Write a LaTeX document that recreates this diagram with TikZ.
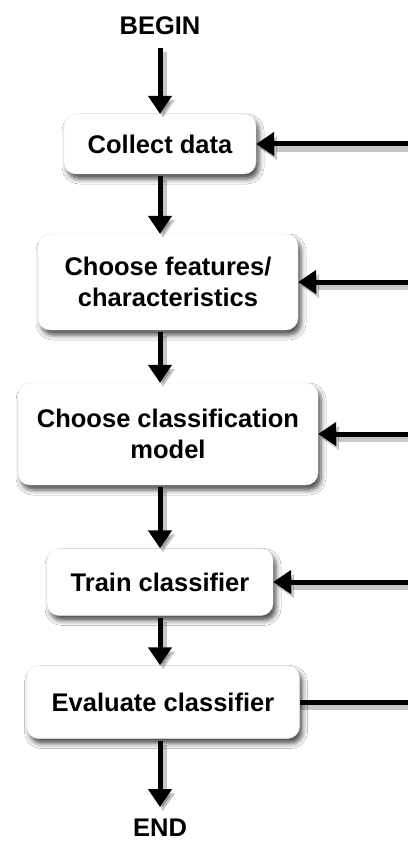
\documentclass[tikz,border=0pt]{standalone}
\usepackage{fontspec}
\setmainfont{Liberation Sans}
\usetikzlibrary{arrows.meta,shadows.blur,calc}
\begin{document}
\begin{tikzpicture}[x=1pt,y=-1pt,
  every node/.style={font=\fontsize{25.5}{30.5}\selectfont\bfseries},
  stepbox/.style={rounded corners=12pt, fill=white, draw=black!10, line width=0.4pt,
    align=center, inner sep=0pt,
    blur shadow={shadow xshift=3pt, shadow yshift=-5pt, shadow blur radius=5pt, shadow opacity=70}},
  terminal/.style={inner sep=0pt},
  arr/.style={line width=5pt, -{Triangle[width=23pt,length=18pt]},
    preaction={draw=black, opacity=0.22, line width=8pt, transform canvas={xshift=3pt,yshift=-4pt}}},
  plain/.style={line width=5pt,
    preaction={draw=black, opacity=0.22, line width=8pt, transform canvas={xshift=0pt,yshift=-4pt}}}
]
\useasboundingbox[fill=white] (0,0) rectangle (407,842);
\coordinate (spine) at (160,0);
\coordinate (rb) at (412,0);

\node[terminal] (begin) at (160,26) {BEGIN};
\node[stepbox, minimum width=192pt, minimum height=60pt] (collect) at (160,144) {Collect data};
\node[stepbox, minimum width=260pt, minimum height=96pt] (features) at (168,282) {Choose features/\\characteristics};
\node[stepbox, minimum width=300pt, minimum height=102pt] (model) at (168,434) {Choose classification\\model};
\node[stepbox, minimum width=226pt, minimum height=67pt] (train) at (160,582) {Train classifier};
\node[stepbox, minimum width=273pt, minimum height=73pt] (eval) at (163,702) {Evaluate classifier};
\node[terminal] (end) at (160,828) {END};

\draw[arr, shorten <=13pt] (begin.south -| spine) -- (collect.north -| spine);
\draw[arr, shorten <=2pt] (collect.south -| spine) -- (features.north -| spine);
\draw[arr, shorten <=2pt] (features.south -| spine) -- (model.north -| spine);
\draw[arr, shorten <=2pt] (model.south -| spine) -- (train.north -| spine);
\draw[arr, shorten <=2pt] (train.south -| spine) -- (eval.north -| spine);
\draw[arr, shorten <=2pt, shorten >=12pt] (eval.south -| spine) -- (end.north -| spine);

\draw[arr] (collect.east -| rb) -- (collect.east);
\draw[arr] (features.east -| rb) -- (features.east);
\draw[arr] (model.east -| rb) -- (model.east);
\draw[arr] (train.east -| rb) -- (train.east);
\draw[plain] (eval.east) -- (eval.east -| rb);
\end{tikzpicture}
\end{document}
